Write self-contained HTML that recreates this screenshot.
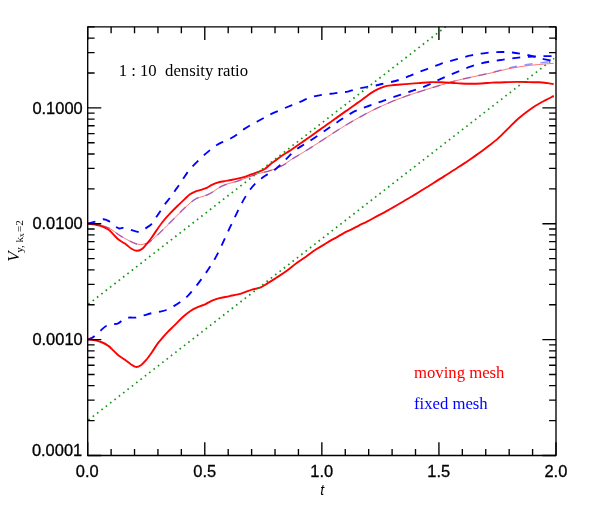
<!DOCTYPE html>
<html><head><meta charset="utf-8"><title>chart</title>
<style>
html,body{margin:0;padding:0;background:#fff;}
svg{display:block;will-change:transform;}
text{font-family:"Liberation Sans",sans-serif;fill:#000;}
.ser{font-family:"Liberation Serif",serif;}
</style></head><body>
<svg width="591" height="511" viewBox="0 0 591 511">
<rect width="591" height="511" fill="#fff"/>
<g fill="none" stroke-linejoin="round">
<path d="M87.6 223.5C88.8 223.6 92.6 223.9 95.0 224.2C97.4 224.5 99.3 224.7 101.9 225.5C104.5 226.3 107.6 227.2 110.4 228.8C113.2 230.4 116.0 233.0 118.8 234.8C121.6 236.6 124.5 238.3 127.3 239.8C130.1 241.3 133.3 242.9 135.8 243.7C138.3 244.5 140.4 244.6 142.5 244.4C144.6 244.2 146.7 243.6 148.5 242.6C150.3 241.6 151.9 240.0 153.5 238.6C155.1 237.2 156.5 236.0 158.2 234.4C159.9 232.8 161.6 231.0 163.7 228.9C165.8 226.8 168.2 224.4 170.5 222.1C172.8 219.8 175.1 217.5 177.4 215.2C179.7 212.9 181.9 210.6 184.2 208.4C186.5 206.2 189.0 203.9 191.1 202.2C193.2 200.5 194.8 199.4 196.6 198.4C198.4 197.5 200.3 197.2 202.1 196.6C203.9 196.0 205.7 195.6 207.5 194.8C209.3 194.0 211.2 192.9 213.0 191.8C214.8 190.7 216.7 189.1 218.5 188.0C220.3 186.9 222.1 186.0 224.0 185.2C225.9 184.4 228.0 183.8 230.0 183.2C232.0 182.6 234.0 182.2 236.0 181.6C238.0 181.0 239.5 180.4 241.9 179.5C244.3 178.6 247.6 177.4 250.4 176.4C253.2 175.4 256.0 174.2 258.8 173.4C261.6 172.6 264.5 172.3 267.3 171.5C270.1 170.7 273.0 169.7 275.8 168.6C278.6 167.5 281.8 166.0 284.2 164.6C286.6 163.2 288.3 161.4 290.5 160.0C292.7 158.6 294.0 158.0 297.4 155.9C300.8 153.8 306.5 150.4 311.1 147.5C315.7 144.6 320.2 141.6 324.8 138.6C329.4 135.6 334.3 132.3 338.5 129.7C342.7 127.0 346.9 124.5 350.0 122.7C353.1 120.9 354.5 120.0 356.8 118.8C359.1 117.5 361.4 116.2 363.7 115.0C366.0 113.7 368.2 112.6 370.5 111.4C372.8 110.2 375.1 109.1 377.4 108.0C379.7 106.9 381.9 105.9 384.2 104.9C386.5 103.9 388.8 102.9 391.1 101.9C393.4 100.9 395.6 100.0 397.9 99.2C400.2 98.3 402.5 97.4 404.8 96.6C407.1 95.8 409.3 95.0 411.6 94.2C413.9 93.5 415.4 93.0 418.5 92.0C421.6 91.0 426.3 89.5 430.0 88.3C433.7 87.2 437.3 86.2 440.8 85.1C444.3 84.1 447.5 83.1 450.9 82.1C454.3 81.1 457.7 80.2 461.1 79.4C464.5 78.6 467.8 78.0 471.2 77.2C474.6 76.5 477.9 75.6 481.4 74.9C484.8 74.1 487.3 73.6 491.9 72.5C496.5 71.3 503.2 69.3 508.8 68.0C514.5 66.7 520.1 65.7 525.8 64.7C531.4 63.8 538.8 63.1 542.7 62.6C546.7 62.1 548.4 61.8 549.5 61.6" stroke="#0000ff" stroke-opacity="0.42" stroke-width="1.5" stroke-dasharray="8 7.8" stroke-dashoffset="1"/>
<path d="M87.6 223.5C88.8 223.6 92.6 223.9 95.0 224.2C97.4 224.5 99.3 224.7 101.9 225.5C104.5 226.3 107.6 227.2 110.4 228.8C113.2 230.4 116.0 233.0 118.8 234.8C121.6 236.6 124.5 238.3 127.3 239.8C130.1 241.3 133.3 242.9 135.8 243.7C138.3 244.5 140.4 244.6 142.5 244.4C144.6 244.2 146.7 243.6 148.5 242.6C150.3 241.6 151.9 240.0 153.5 238.6C155.1 237.2 156.5 236.0 158.2 234.4C159.9 232.8 161.6 231.0 163.7 228.9C165.8 226.8 168.2 224.4 170.5 222.1C172.8 219.8 175.1 217.5 177.4 215.2C179.7 212.9 181.9 210.6 184.2 208.4C186.5 206.2 189.0 203.9 191.1 202.2C193.2 200.5 194.8 199.4 196.6 198.4C198.4 197.5 200.3 197.2 202.1 196.6C203.9 196.0 205.7 195.6 207.5 194.8C209.3 194.0 211.2 192.9 213.0 191.8C214.8 190.7 216.7 189.1 218.5 188.0C220.3 186.9 222.1 186.0 224.0 185.2C225.9 184.4 228.0 183.8 230.0 183.2C232.0 182.6 234.0 182.2 236.0 181.6C238.0 181.0 239.5 180.4 241.9 179.5C244.3 178.6 247.6 177.4 250.4 176.4C253.2 175.4 256.0 174.2 258.8 173.4C261.6 172.6 264.5 172.3 267.3 171.5C270.1 170.7 273.0 169.7 275.8 168.6C278.6 167.5 281.8 166.0 284.2 164.6C286.6 163.2 288.3 161.4 290.5 160.0C292.7 158.6 294.0 158.0 297.4 155.9C300.8 153.8 306.5 150.4 311.1 147.5C315.7 144.6 320.2 141.6 324.8 138.6C329.4 135.6 334.3 132.3 338.5 129.7C342.7 127.0 346.9 124.5 350.0 122.7C353.1 120.9 354.5 120.0 356.8 118.8C359.1 117.5 361.4 116.2 363.7 115.0C366.0 113.7 368.2 112.6 370.5 111.4C372.8 110.2 375.1 109.1 377.4 108.0C379.7 106.9 381.9 105.9 384.2 104.9C386.5 103.9 388.8 102.9 391.1 101.9C393.4 100.9 395.6 100.0 397.9 99.2C400.2 98.3 402.5 97.4 404.8 96.6C407.1 95.8 409.3 95.0 411.6 94.2C413.9 93.5 415.4 93.0 418.5 92.0C421.6 91.0 426.3 89.5 430.0 88.3C433.7 87.2 437.3 86.2 440.8 85.1C444.3 84.1 447.5 83.1 450.9 82.1C454.3 81.1 457.7 80.2 461.1 79.4C464.5 78.6 467.8 78.0 471.2 77.2C474.6 76.5 477.9 75.7 481.4 75.0C484.8 74.3 487.3 73.8 491.9 72.8C496.5 71.8 503.2 69.9 508.8 68.7C514.5 67.6 520.1 66.7 525.8 65.9C531.4 65.1 538.1 64.6 542.7 64.2C547.4 63.8 551.9 63.4 553.7 63.3" stroke="#ff0000" stroke-width="0.6" stroke-opacity="0.9"/>
<path d="M87.6 223.5C88.9 223.2 92.5 222.4 95.2 221.7C97.9 221.0 101.2 219.2 103.6 219.2C106.0 219.2 107.7 220.3 109.7 221.6C111.7 222.8 114.2 225.5 115.8 226.7C117.4 227.8 118.0 228.3 119.2 228.5C120.4 228.7 121.6 228.0 122.7 227.9C123.8 227.8 124.7 227.8 126.1 228.1C127.5 228.4 129.0 229.3 130.9 229.9C132.8 230.5 135.9 231.7 137.7 231.9C139.5 232.1 140.2 231.6 141.5 231.0C142.8 230.4 143.6 229.7 145.3 228.5C147.0 227.3 150.0 225.7 151.8 223.8C153.6 221.9 154.8 219.4 156.2 217.3C157.6 215.2 158.8 213.4 160.3 211.2C161.8 209.0 163.3 206.4 165.0 204.1C166.7 201.8 168.8 199.5 170.5 197.2C172.2 194.9 173.8 192.4 175.3 190.3C176.8 188.2 178.1 186.5 179.5 184.4C180.9 182.3 182.4 179.9 183.8 177.8C185.2 175.7 186.6 173.5 188.0 171.6C189.4 169.7 190.4 168.6 192.5 166.4C194.6 164.2 198.0 160.8 200.7 158.2C203.4 155.6 206.1 153.3 208.8 151.1C211.5 148.9 214.4 146.6 216.9 145.0C219.4 143.4 221.7 142.5 224.0 141.4C226.3 140.3 228.6 139.4 230.9 138.2C233.2 136.9 235.6 135.4 237.7 133.9C239.8 132.4 241.6 130.8 243.6 129.4C245.6 128.1 247.2 127.1 249.5 125.8C251.8 124.5 254.9 122.8 257.3 121.5C259.7 120.2 261.9 119.0 264.0 117.8C266.1 116.6 267.2 115.9 270.0 114.5C272.8 113.1 277.3 111.2 281.0 109.7C284.7 108.1 288.8 106.4 292.0 105.1C295.2 103.8 297.5 102.9 300.0 101.9C302.5 100.9 304.5 99.8 306.8 98.9C309.1 98.0 311.4 97.1 313.7 96.5C316.0 95.9 318.2 95.5 320.5 95.1C322.8 94.7 325.1 94.4 327.4 94.1C329.7 93.8 331.9 93.7 334.2 93.4C336.5 93.1 338.8 92.7 341.1 92.4C343.4 92.1 345.6 92.1 347.9 91.6C350.2 91.1 352.5 90.0 354.8 89.4C357.1 88.8 359.3 88.3 361.6 87.9C363.9 87.4 366.2 87.1 368.5 86.7C370.8 86.3 373.1 86.0 375.3 85.6C377.6 85.1 379.4 84.6 382.0 84.0C384.6 83.4 388.0 82.8 391.0 82.0C394.0 81.3 397.0 80.6 400.2 79.5C403.4 78.4 406.9 76.9 410.3 75.6C413.7 74.2 417.1 72.7 420.5 71.4C423.9 70.1 427.2 69.0 430.6 67.7C434.0 66.4 437.4 65.0 440.8 63.8C444.2 62.6 447.5 61.8 450.9 60.8C454.3 59.8 457.7 58.8 461.1 57.9C464.5 57.0 467.8 56.1 471.2 55.4C474.6 54.7 477.9 54.1 481.4 53.6C484.8 53.1 488.4 52.6 491.9 52.3C495.3 52.0 498.7 52.0 502.1 52.0C505.5 52.0 508.8 52.2 512.2 52.5C515.6 52.8 519.0 53.4 522.4 54.0C525.8 54.6 529.1 55.4 532.5 56.2C535.9 57.0 539.2 58.0 542.7 58.8C546.2 59.6 551.9 60.5 553.7 60.8" stroke="#0000ff" stroke-width="1.85" stroke-dasharray="8 7.7"/>
<path d="M87.6 339.4C88.6 339.0 91.4 338.3 93.4 336.9C95.4 335.5 97.6 333.1 99.8 331.2C102.0 329.3 104.4 326.8 106.5 325.7C108.6 324.6 110.5 324.7 112.5 324.3C114.5 323.9 116.4 324.1 118.2 323.3C120.0 322.5 121.5 320.6 123.3 319.7C125.1 318.8 126.8 318.0 128.9 317.6C131.0 317.2 133.3 318.0 135.8 317.6C138.3 317.2 141.1 316.1 143.7 315.4C146.3 314.7 148.8 313.8 151.5 313.2C154.2 312.6 157.4 312.2 159.9 311.6C162.4 311.1 164.0 310.9 166.3 310.0C168.6 309.1 171.3 307.5 173.8 306.1C176.3 304.7 178.9 303.1 181.2 301.4C183.5 299.7 185.8 297.7 187.8 295.8C189.8 293.9 191.1 292.1 193.0 289.9C194.9 287.7 197.0 285.0 199.0 282.4C201.0 279.8 202.9 277.1 205.0 274.2C207.1 271.2 209.2 268.0 211.3 264.7C213.4 261.4 215.4 258.1 217.4 254.2C219.4 250.3 221.5 245.7 223.5 241.4C225.5 237.1 227.6 232.5 229.6 228.2C231.6 223.9 233.5 219.9 235.5 215.8C237.5 211.7 239.8 207.1 241.6 203.6C243.4 200.1 244.9 197.5 246.5 195.0C248.1 192.5 249.5 190.4 251.0 188.5C252.5 186.6 253.8 185.2 255.5 183.5C257.2 181.8 259.4 180.0 261.4 178.5C263.4 176.9 265.2 175.8 267.3 174.4C269.4 173.0 272.0 171.8 274.1 170.3C276.2 168.8 278.0 167.0 280.0 165.2C282.0 163.4 284.1 161.1 285.9 159.3C287.7 157.5 289.2 155.9 291.0 154.2C292.8 152.5 294.8 150.7 296.9 149.1C299.0 147.5 301.3 146.3 303.7 144.8C306.1 143.3 308.5 141.8 311.3 139.9C314.1 138.1 317.8 135.6 320.5 133.8C323.2 132.0 325.1 130.6 327.4 129.0C329.7 127.4 331.9 125.9 334.2 124.3C336.5 122.7 338.8 121.0 341.1 119.5C343.4 118.0 345.6 116.5 347.9 115.2C350.2 113.8 352.5 112.3 354.8 111.2C357.1 110.1 359.3 109.3 361.6 108.4C363.9 107.5 366.2 106.8 368.5 106.0C370.8 105.2 373.1 104.4 375.3 103.6C377.6 102.8 379.4 102.2 382.0 101.3C384.6 100.4 388.0 99.1 391.0 98.0C394.0 96.9 397.0 96.0 400.2 94.9C403.4 93.8 406.9 92.6 410.3 91.5C413.7 90.4 417.1 89.4 420.5 88.1C423.9 86.8 427.2 85.4 430.6 83.9C434.0 82.3 437.4 80.4 440.8 78.8C444.2 77.2 447.5 76.0 450.9 74.5C454.3 73.1 457.7 71.7 461.1 70.3C464.5 68.9 467.8 67.6 471.2 66.4C474.6 65.2 477.9 64.2 481.4 63.4C484.8 62.5 488.4 61.9 491.9 61.3C495.3 60.7 498.7 60.3 502.1 59.8C505.5 59.3 508.8 58.8 512.2 58.4C515.6 58.0 519.0 57.4 522.4 57.1C525.8 56.8 529.1 56.8 532.5 56.6C535.9 56.5 539.2 56.3 542.7 56.2C546.2 56.1 551.9 56.2 553.7 56.2" stroke="#0000ff" stroke-width="1.85" stroke-dasharray="8 7.7"/>
<path d="M87.6 223.5C88.9 223.7 92.8 224.1 95.2 224.6C97.6 225.1 99.7 225.5 101.9 226.3C104.2 227.2 106.7 228.3 108.7 229.7C110.7 231.1 112.1 233.1 113.8 234.8C115.5 236.5 116.8 238.2 118.8 239.8C120.8 241.4 123.5 242.6 125.6 244.1C127.7 245.6 129.7 247.7 131.5 248.8C133.3 249.9 134.9 250.8 136.6 250.8C138.3 250.9 140.1 250.1 141.7 249.1C143.2 248.1 144.3 246.7 145.9 244.9C147.5 243.1 149.4 240.7 151.2 238.3C153.0 235.9 154.5 233.3 156.5 230.4C158.5 227.5 161.0 223.8 163.3 221.0C165.6 218.2 167.7 215.9 170.1 213.4C172.5 210.9 175.3 208.1 177.7 205.8C180.1 203.5 182.3 201.3 184.4 199.4C186.5 197.5 188.1 195.5 190.0 194.2C191.9 192.9 193.8 192.1 195.8 191.3C197.8 190.6 200.2 190.2 202.0 189.6C203.8 189.0 205.2 188.6 206.8 187.9C208.4 187.2 209.6 186.1 211.4 185.2C213.2 184.3 215.4 183.3 217.5 182.6C219.6 181.9 221.3 181.7 224.0 181.2C226.7 180.7 230.5 180.1 233.5 179.5C236.5 178.9 239.1 178.4 241.9 177.6C244.7 176.8 247.6 175.7 250.4 174.7C253.2 173.7 256.4 172.5 258.8 171.6C261.2 170.6 262.8 170.2 264.8 169.0C266.8 167.7 268.9 165.4 270.7 164.0C272.5 162.6 273.3 162.0 275.5 160.4C277.7 158.8 281.1 156.2 283.7 154.5C286.3 152.8 288.7 151.5 291.0 150.0C293.3 148.5 295.1 147.1 297.4 145.5C299.6 143.9 302.2 142.2 304.5 140.6C306.8 139.0 308.5 137.8 311.1 136.0C313.7 134.2 317.7 131.2 320.0 129.6C322.3 128.0 322.7 127.7 324.8 126.2C326.9 124.7 330.4 122.1 332.7 120.5C335.0 118.9 335.6 118.4 338.5 116.4C341.4 114.4 346.9 110.4 350.0 108.2C353.1 106.0 354.5 105.0 356.8 103.4C359.1 101.8 361.4 100.1 363.7 98.4C366.0 96.8 368.2 94.9 370.5 93.4C372.8 91.9 375.1 90.4 377.4 89.3C379.7 88.2 381.9 87.3 384.2 86.6C386.5 86.0 388.8 85.7 391.1 85.4C393.4 85.1 395.6 84.9 397.9 84.7C400.2 84.5 402.5 84.3 404.8 84.1C407.1 83.9 409.3 83.8 411.6 83.6C413.9 83.4 415.4 83.3 418.5 83.1C421.6 82.9 426.3 82.3 430.0 82.2C433.7 82.1 437.3 82.2 440.8 82.3C444.3 82.4 447.5 82.6 450.9 82.8C454.3 83.0 457.7 83.3 461.1 83.5C464.5 83.7 467.8 83.8 471.2 83.8C474.6 83.8 477.9 83.7 481.4 83.5C484.8 83.3 488.8 82.8 491.9 82.6C495.0 82.4 497.2 82.6 500.0 82.5C502.8 82.4 506.0 82.2 508.8 82.1C511.6 82.0 514.2 81.9 517.0 81.9C519.8 81.9 523.1 81.9 525.8 82.0C528.5 82.1 530.8 82.3 533.0 82.3C535.2 82.3 536.8 82.1 539.3 82.2C541.8 82.3 545.4 82.8 547.8 83.1C550.2 83.4 552.7 83.9 553.7 84.1" stroke="#ff0000" stroke-width="1.9"/>
<path d="M87.6 339.4C88.9 339.5 92.8 339.7 95.2 340.2C97.7 340.7 100.1 341.6 102.3 342.5C104.5 343.4 106.5 344.5 108.4 345.9C110.3 347.2 111.8 349.0 113.5 350.6C115.2 352.2 116.7 354.0 118.6 355.5C120.5 357.0 122.7 358.2 124.7 359.6C126.7 361.1 129.0 363.0 130.8 364.2C132.7 365.4 134.1 366.7 135.8 366.9C137.5 367.1 139.2 366.3 140.9 365.2C142.6 364.1 144.1 362.4 146.0 360.2C147.9 358.0 150.1 354.9 152.1 352.0C154.1 349.1 155.8 346.0 158.2 342.9C160.6 339.8 163.7 336.3 166.4 333.3C169.1 330.4 171.8 328.1 174.5 325.4C177.2 322.7 179.9 319.6 182.6 317.2C185.3 314.8 188.1 312.4 190.8 310.7C193.5 308.9 196.5 307.8 198.9 306.7C201.3 305.6 202.8 305.4 205.2 304.3C207.6 303.2 210.9 301.2 213.3 300.2C215.7 299.2 216.7 298.9 219.4 298.2C222.1 297.5 225.9 296.9 229.6 296.1C233.3 295.3 238.1 294.4 241.8 293.3C245.5 292.2 248.8 290.6 251.9 289.6C255.0 288.6 257.4 288.7 260.1 287.6C262.8 286.5 265.5 284.5 268.2 282.9C270.9 281.3 273.2 279.8 276.3 277.8C279.4 275.8 283.1 273.6 286.5 271.1C289.9 268.6 293.3 265.5 296.7 263.0C300.1 260.5 303.8 258.1 306.9 255.9C310.0 253.7 312.7 251.6 315.5 249.8C318.3 247.9 321.2 246.5 323.7 244.9C326.2 243.4 328.2 242.0 330.5 240.6C332.8 239.2 335.1 238.1 337.4 236.8C339.7 235.5 341.9 234.0 344.2 232.8C346.5 231.6 348.8 230.7 351.1 229.6C353.4 228.5 356.4 227.0 357.9 226.2C359.4 225.4 358.6 225.6 360.0 224.9C361.4 224.2 363.7 223.3 366.0 222.2C368.3 221.0 371.4 219.3 373.7 218.0C376.0 216.7 377.7 215.8 380.0 214.6C382.3 213.4 385.1 211.9 387.4 210.6C389.7 209.3 391.7 208.2 394.0 206.9C396.3 205.6 398.9 204.1 401.1 202.8C403.3 201.5 404.7 200.7 407.0 199.3C409.3 197.9 412.5 196.0 414.8 194.6C417.1 193.2 418.7 192.2 421.0 190.8C423.3 189.4 426.3 187.5 428.5 186.2C430.7 184.8 432.1 183.9 434.0 182.7C435.9 181.5 437.9 180.2 440.0 178.9C442.1 177.6 444.4 176.1 446.6 174.7C448.9 173.3 451.4 171.6 453.5 170.3C455.6 169.0 457.1 168.0 459.0 166.8C460.9 165.6 463.2 164.1 465.0 162.9C466.8 161.7 468.2 160.7 470.0 159.5C471.8 158.3 473.4 157.0 475.5 155.6C477.6 154.2 480.1 152.5 482.4 150.8C484.7 149.1 486.9 147.4 489.2 145.6C491.5 143.8 494.1 141.8 496.1 140.1C498.1 138.4 499.4 137.1 501.0 135.6C502.6 134.1 504.0 132.7 505.5 131.2C507.0 129.7 508.5 128.2 510.1 126.6C511.7 125.0 513.5 123.1 515.2 121.5C516.9 119.9 518.6 118.3 520.3 116.9C522.0 115.5 523.6 114.2 525.3 112.9C527.0 111.6 528.7 110.4 530.4 109.2C532.1 108.0 533.8 106.9 535.5 105.8C537.2 104.7 538.9 103.8 540.6 102.8C542.3 101.8 544.0 101.0 545.7 100.1C547.4 99.2 549.4 98.2 550.8 97.5C552.1 96.8 553.3 96.2 553.8 96.0" stroke="#ff0000" stroke-width="1.9"/>
<path d="M87.7 304.7L445.5 26.9" stroke="#0f960f" stroke-width="1.7" stroke-dasharray="1.6 3.9" stroke-dashoffset="-0.8"/>
<path d="M87.7 420.6L554.2 58.3" stroke="#0f960f" stroke-width="1.7" stroke-dasharray="1.6 3.9" stroke-dashoffset="-0.9"/>
<path d="M87.70 455.45v-13.1M87.70 26.85v13.1M111.12 455.45v-6.5M111.12 26.85v6.5M134.53 455.45v-6.5M134.53 26.85v6.5M157.94 455.45v-6.5M157.94 26.85v6.5M181.36 455.45v-6.5M181.36 26.85v6.5M204.78 455.45v-13.1M204.78 26.85v13.1M228.19 455.45v-6.5M228.19 26.85v6.5M251.61 455.45v-6.5M251.61 26.85v6.5M275.02 455.45v-6.5M275.02 26.85v6.5M298.44 455.45v-6.5M298.44 26.85v6.5M321.85 455.45v-13.1M321.85 26.85v13.1M345.27 455.45v-6.5M345.27 26.85v6.5M368.68 455.45v-6.5M368.68 26.85v6.5M392.10 455.45v-6.5M392.10 26.85v6.5M415.51 455.45v-6.5M415.51 26.85v6.5M438.93 455.45v-13.1M438.93 26.85v13.1M462.34 455.45v-6.5M462.34 26.85v6.5M485.75 455.45v-6.5M485.75 26.85v6.5M509.17 455.45v-6.5M509.17 26.85v6.5M532.59 455.45v-6.5M532.59 26.85v6.5M556.00 455.45v-13.1M556.00 26.85v13.1M87.70 455.45h13.6M556.00 455.45h-13.6M87.70 420.57h6.9M556.00 420.57h-6.9M87.70 400.17h6.9M556.00 400.17h-6.9M87.70 385.69h6.9M556.00 385.69h-6.9M87.70 374.46h6.9M556.00 374.46h-6.9M87.70 365.29h6.9M556.00 365.29h-6.9M87.70 357.53h6.9M556.00 357.53h-6.9M87.70 350.81h6.9M556.00 350.81h-6.9M87.70 344.88h6.9M556.00 344.88h-6.9M87.70 339.58h13.6M556.00 339.58h-13.6M87.70 304.70h6.9M556.00 304.70h-6.9M87.70 284.30h6.9M556.00 284.30h-6.9M87.70 269.82h6.9M556.00 269.82h-6.9M87.70 258.59h6.9M556.00 258.59h-6.9M87.70 249.42h6.9M556.00 249.42h-6.9M87.70 241.66h6.9M556.00 241.66h-6.9M87.70 234.94h6.9M556.00 234.94h-6.9M87.70 229.01h6.9M556.00 229.01h-6.9M87.70 223.71h13.6M556.00 223.71h-13.6M87.70 188.83h6.9M556.00 188.83h-6.9M87.70 168.43h6.9M556.00 168.43h-6.9M87.70 153.95h6.9M556.00 153.95h-6.9M87.70 142.72h6.9M556.00 142.72h-6.9M87.70 133.55h6.9M556.00 133.55h-6.9M87.70 125.79h6.9M556.00 125.79h-6.9M87.70 119.07h6.9M556.00 119.07h-6.9M87.70 113.14h6.9M556.00 113.14h-6.9M87.70 107.84h13.6M556.00 107.84h-13.6M87.70 72.96h6.9M556.00 72.96h-6.9M87.70 52.56h6.9M556.00 52.56h-6.9M87.70 38.08h6.9M556.00 38.08h-6.9M87.70 26.85h6.9M556.00 26.85h-6.9" stroke="#000" stroke-width="1.35"/>
<rect x="87.70" y="26.85" width="468.30" height="428.60" stroke="#000" stroke-width="1.35"/>
</g>
<g font-size="16.45" text-anchor="end" stroke="#000" stroke-width="0.3">
<text x="82.7" y="113.5">0.1000</text>
<text x="82.7" y="229.4">0.0100</text>
<text x="82.7" y="345.3">0.0010</text>
<text x="82.2" y="455.7">0.0001</text>
</g>
<g font-size="16.45" text-anchor="middle" stroke="#000" stroke-width="0.3">
<text x="87.3" y="476.5">0.0</text>
<text x="204.7" y="476.5">0.5</text>
<text x="321.8" y="476.5">1.0</text>
<text x="438.8" y="476.5">1.5</text>
<text x="555.9" y="476.5">2.0</text>
</g>
<text x="322.2" y="494.5" font-size="14" font-style="italic" text-anchor="middle">t</text>
<text class="ser" x="118.7" y="76.3" font-size="16.7" xml:space="preserve">1 : 10  density ratio</text>
<text class="ser" x="414" y="377.7" font-size="16.7" style="fill:#ff0000">moving mesh</text>
<text class="ser" x="414" y="408.8" font-size="16.7" style="fill:#0000ff">fixed mesh</text>
<g transform="translate(19,261.8) rotate(-90)">
<text class="ser" x="0" y="0" font-size="16.7"><tspan font-style="italic">V</tspan><tspan font-size="11" dx="-1.2" dy="3.8">y, k</tspan><tspan font-size="7.5" dy="1.6">x</tspan><tspan font-size="11" dy="-1.6" dx="1.2">=2</tspan></text>
</g>
</svg>
</body></html>
